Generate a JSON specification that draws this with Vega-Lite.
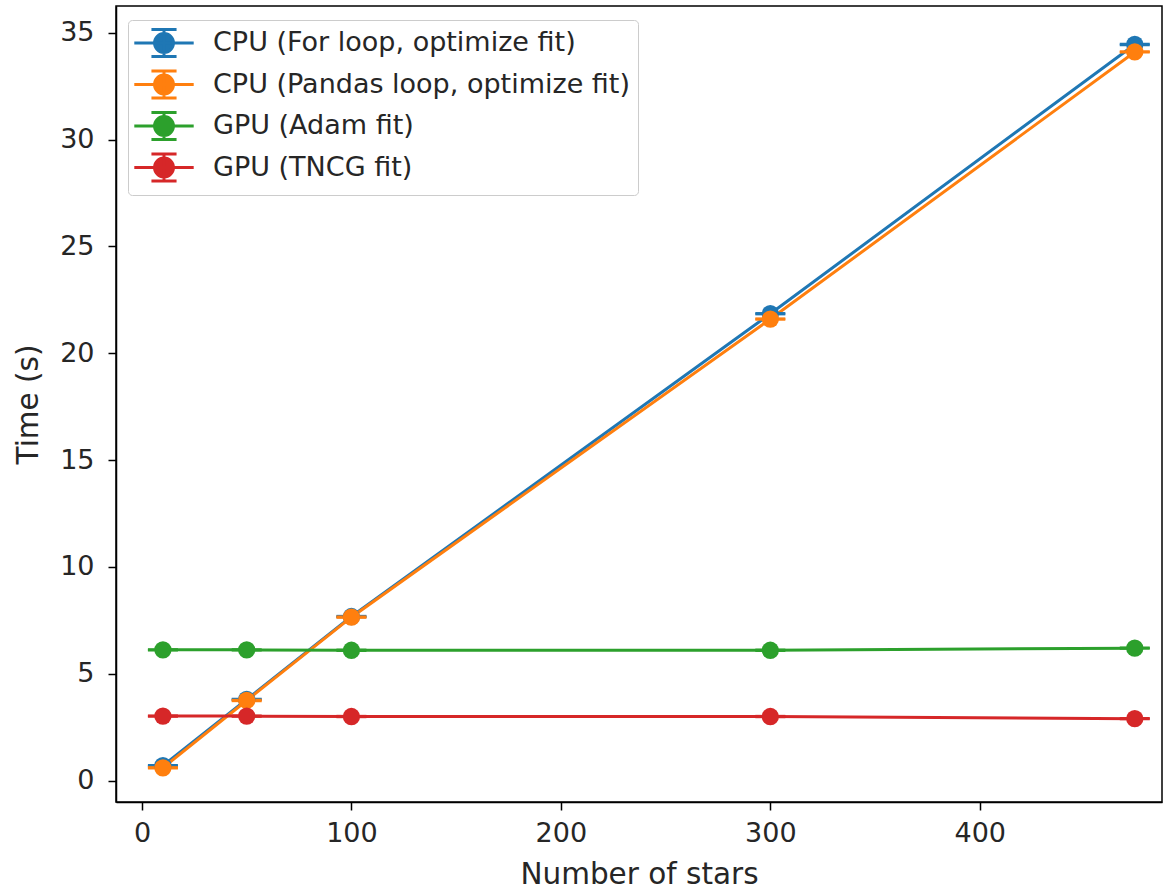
{
  "$schema": "https://vega.github.io/schema/vega-lite/v6.json",
  "width": 1046,
  "height": 796,
  "autosize": {"type": "none"},
  "padding": {"left": 116, "top": 6, "right": 12, "bottom": 91},
  "background": "white",
  "config": {
    "view": {"stroke": "black", "strokeWidth": 1.5},
    "font": "DejaVu Sans",
    "axis": {
      "grid": false,
      "domainColor": "black",
      "domainWidth": 1.5,
      "tickColor": "black",
      "tickWidth": 1.5,
      "tickSize": 8,
      "labelFont": "DejaVu Sans",
      "labelFontSize": 27,
      "labelColor": "#262626",
      "titleFont": "DejaVu Sans",
      "titleFontSize": 29.5,
      "titleFontWeight": "normal",
      "titleColor": "#262626"
    }
  },
  "data": {
    "values": [
      {"series": "CPU (For loop, optimize fit)", "stars": 10, "time": 0.7, "lo": 0.68, "hi": 0.72},
      {"series": "CPU (For loop, optimize fit)", "stars": 50, "time": 3.8, "lo": 3.78, "hi": 3.82},
      {"series": "CPU (For loop, optimize fit)", "stars": 100, "time": 7.68, "lo": 7.66, "hi": 7.7},
      {"series": "CPU (For loop, optimize fit)", "stars": 300, "time": 21.85, "lo": 21.83, "hi": 21.87},
      {"series": "CPU (For loop, optimize fit)", "stars": 474, "time": 34.45, "lo": 34.43, "hi": 34.47},
      {"series": "CPU (Pandas loop, optimize fit)", "stars": 10, "time": 0.6, "lo": 0.58, "hi": 0.62},
      {"series": "CPU (Pandas loop, optimize fit)", "stars": 50, "time": 3.75, "lo": 3.73, "hi": 3.77},
      {"series": "CPU (Pandas loop, optimize fit)", "stars": 100, "time": 7.65, "lo": 7.63, "hi": 7.67},
      {"series": "CPU (Pandas loop, optimize fit)", "stars": 300, "time": 21.6, "lo": 21.58, "hi": 21.62},
      {"series": "CPU (Pandas loop, optimize fit)", "stars": 474, "time": 34.1, "lo": 34.08, "hi": 34.12},
      {"series": "GPU (Adam fit)", "stars": 10, "time": 6.12, "lo": 6.1, "hi": 6.14},
      {"series": "GPU (Adam fit)", "stars": 50, "time": 6.12, "lo": 6.1, "hi": 6.14},
      {"series": "GPU (Adam fit)", "stars": 100, "time": 6.1, "lo": 6.08, "hi": 6.12},
      {"series": "GPU (Adam fit)", "stars": 300, "time": 6.1, "lo": 6.08, "hi": 6.12},
      {"series": "GPU (Adam fit)", "stars": 474, "time": 6.2, "lo": 6.18, "hi": 6.22},
      {"series": "GPU (TNCG fit)", "stars": 10, "time": 3.02, "lo": 3.0, "hi": 3.04},
      {"series": "GPU (TNCG fit)", "stars": 50, "time": 3.02, "lo": 3.0, "hi": 3.04},
      {"series": "GPU (TNCG fit)", "stars": 100, "time": 3.0, "lo": 2.98, "hi": 3.02},
      {"series": "GPU (TNCG fit)", "stars": 300, "time": 3.0, "lo": 2.98, "hi": 3.02},
      {"series": "GPU (TNCG fit)", "stars": 474, "time": 2.9, "lo": 2.88, "hi": 2.92}
    ]
  },
  "encoding": {
    "x": {
      "field": "stars", "type": "quantitative",
      "scale": {"domain": [-12.4, 487], "nice": false, "zero": false},
      "axis": {"values": [0, 100, 200, 300, 400], "title": "Number of stars", "labelPadding": 10, "titlePadding": 14}
    },
    "color": {
      "field": "series", "type": "nominal",
      "scale": {
        "domain": ["CPU (For loop, optimize fit)", "CPU (Pandas loop, optimize fit)", "GPU (Adam fit)", "GPU (TNCG fit)"],
        "range": ["#1f77b4", "#ff7f0e", "#2ca02c", "#d62728"]
      }
    }
  },
  "layer": [
    {
      "mark": {"type": "line", "strokeWidth": 3},
      "encoding": {
        "y": {
          "field": "time", "type": "quantitative",
          "scale": {"domain": [-1.0, 36.25], "nice": false, "zero": false},
          "axis": {"values": [0, 5, 10, 15, 20, 25, 30, 35], "title": "Time (s)", "labelPadding": 14, "titlePadding": 16}
        },
        "color": {
          "field": "series", "type": "nominal",
          "legend": {
            "title": null,
            "orient": "none",
            "legendX": 12,
            "legendY": 14,
            "fillColor": "white",
            "strokeColor": "#cccccc",
            "cornerRadius": 4,
            "padding": 8,
            "labelFont": "DejaVu Sans",
            "labelFontSize": 27,
            "labelColor": "#262626",
            "labelLimit": 0,
            "symbolOpacity": 1,
            "symbolType": "M-2.2,0L2.2,0M0,-1L0,1M-0.93,-1L0.93,-1M-0.93,1L0.93,1M-0.7,0A0.7,0.7 0 1,1 0.7,0A0.7,0.7 0 1,1 -0.7,0Z",
            "symbolSize": 729,
            "symbolStrokeWidth": 3,
            "symbolOffset": 13,
            "labelOffset": 34,
            "rowPadding": 1.5
          }
        }
      }
    },
    {
      "mark": {"type": "rule", "strokeWidth": 2.5, "opacity": 1},
      "encoding": {"y": {"field": "lo", "type": "quantitative"}, "y2": {"field": "hi"}}
    },
    {
      "mark": {"type": "tick", "orient": "horizontal", "size": 30, "thickness": 2.5, "opacity": 1},
      "encoding": {"y": {"field": "lo", "type": "quantitative"}}
    },
    {
      "mark": {"type": "tick", "orient": "horizontal", "size": 30, "thickness": 2.5, "opacity": 1},
      "encoding": {"y": {"field": "hi", "type": "quantitative"}}
    },
    {
      "mark": {"type": "circle", "size": 300, "opacity": 1},
      "encoding": {"y": {"field": "time", "type": "quantitative"}}
    }
  ]
}
